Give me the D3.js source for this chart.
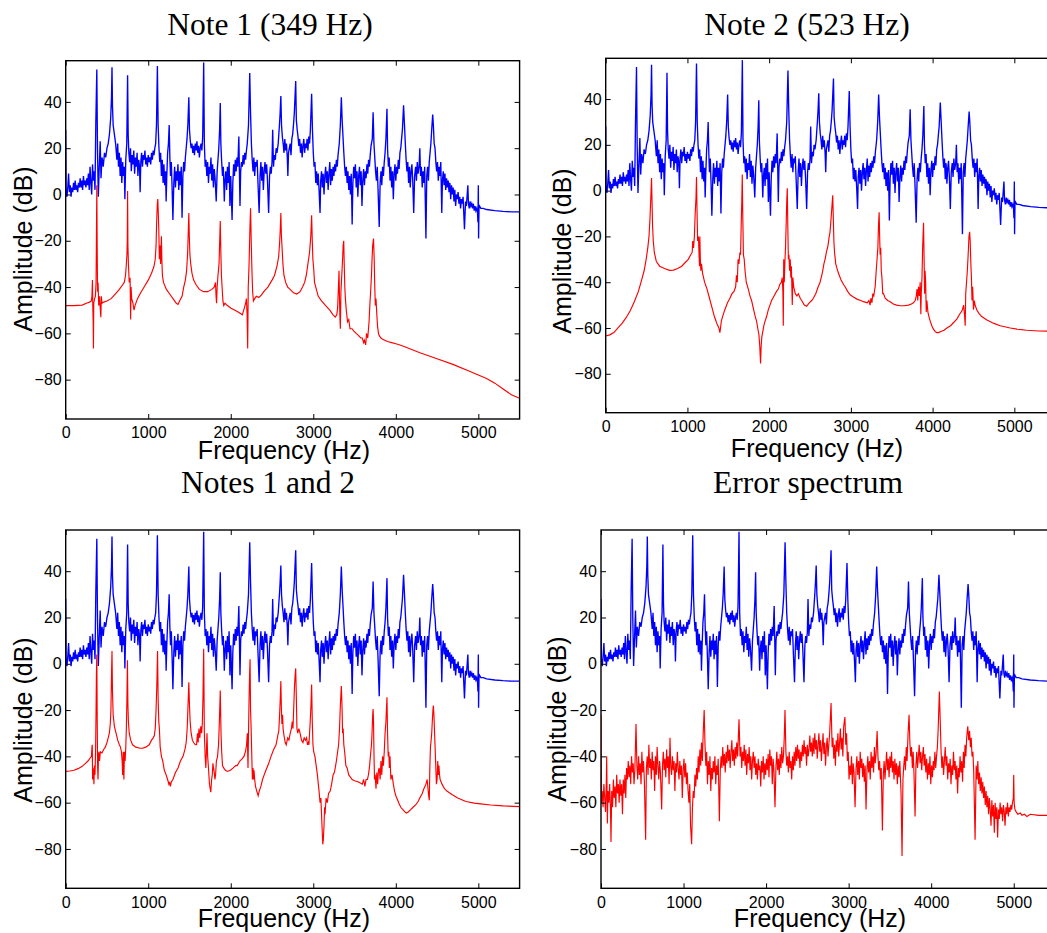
<!DOCTYPE html>
<html>
<head>
  <meta charset="utf-8">
  <script src="https://d3js.org/d3.v7.min.js"></script>
  <style>
    body { margin: 0; background: #fff; }
    .title { font-family: "Liberation Serif", "Times New Roman", serif; font-size: 31.5px; text-anchor: middle; }
    .label { font-family: "Liberation Sans", Arial, sans-serif; font-size: 25px; text-anchor: middle; }
    .tick text { font-family: "Liberation Sans", Arial, sans-serif; font-size: 16px; fill: #000; }
    .frame { fill: none; stroke: #000; stroke-width: 1.4; }
  </style>
</head>
<body>
  <script>
    // tick values and titles
    var freqTicks = [0, 1000, 2000, 3000, 4000, 5000];
    var dbTicks = [-80, -60, -40, -20, 0, 20, 40];
    var titles = ["Note 1 (349 Hz)", "Note 2 (523 Hz)", "Notes 1 and 2", "Error spectrum"];

    // measured spectrum of the two notes together (blue, same in every panel), [Hz, dB]
    var mixture = [[0,28],[5,2],[15,-1],[25,3],[35,9],[45,1],[55,4],[65,-1],[75,3],[85,1],[95,5],[105,2],[115,6],[125,2],[135,4],[145,1],[155,5],[165,3],[175,7],[185,3],[195,6],[205,2],[215,8],[225,4],[235,6],[245,3],[255,7],[265,4],[275,9],[285,2],[295,12],[305,5],[315,0],[325,13],[335,6],[345,10],[355,2],[365,31],[377,54],[385,20],[395,-1],[405,10],[418,23],[428,7],[440,16],[455,12],[470,18],[485,16],[500,20],[515,22],[530,26],[545,33],[555,42],[561,55],[567,38],[575,30],[590,26],[605,22],[620,15],[630,22],[640,12],[650,18],[660,8],[670,16],[680,5],[690,14],[700,8],[710,12],[717,-2],[728,15],[740,22],[750,51.5],[757,26],[765,18],[775,14],[785,20],[795,10],[805,17],[815,13],[825,19],[835,9],[845,16],[855,12],[865,18],[875,8],[885,15],[895,12],[902,1],[910,14],[920,18],[930,12],[940,17],[950,15],[960,19],[970,13],[980,16],[990,12],[1000,17],[1010,14],[1020,16],[1030,13],[1040,18],[1050,15],[1060,19],[1070,17],[1080,20],[1090,22],[1100,30],[1111,55.5],[1120,30],[1130,20],[1140,14],[1150,18],[1160,8],[1170,15],[1180,5],[1190,13],[1200,4],[1210,10],[1217,-3],[1225,8],[1235,18],[1245,22],[1254,30],[1262,16],[1270,8],[1280,14],[1290,2],[1299,-11],[1310,5],[1320,12],[1330,3],[1340,10],[1350,6],[1360,13],[1370,2],[1380,10],[1390,4],[1400,12],[1410,-10],[1420,8],[1430,14],[1440,10],[1450,16],[1460,20],[1470,24],[1480,30],[1492,42],[1500,28],[1510,23],[1520,20],[1530,22],[1540,18],[1550,21],[1560,17],[1570,22],[1580,19],[1590,23],[1600,18],[1610,21],[1620,16],[1630,20],[1640,22],[1650,19],[1660,25],[1672,57],[1680,22],[1690,12],[1700,15],[1710,8],[1720,14],[1730,5],[1740,12],[1750,9],[1760,16],[1770,6],[1780,13],[1790,3],[1800,11],[1810,7],[1824,-3],[1835,10],[1845,15],[1855,20],[1865,28],[1873,39.5],[1880,22],[1890,14],[1900,8],[1910,12],[1922,-3],[1930,6],[1940,10],[1950,2],[1960,12],[1970,5],[1980,14],[1990,-5],[2000,8],[2016,-11],[2025,5],[2035,13],[2045,8],[2055,15],[2065,10],[2075,16],[2085,12],[2098,25],[2105,10],[2112,-5],[2120,10],[2130,14],[2140,12],[2150,17],[2160,13],[2170,18],[2180,15],[2190,19],[2200,22],[2215,30],[2230,52.5],[2240,35],[2250,22],[2260,15],[2270,10],[2280,16],[2290,8],[2300,14],[2310,12],[2320,15],[2330,5],[2344,-8],[2355,8],[2365,14],[2375,6],[2385,12],[2395,2],[2405,10],[2415,14],[2425,9],[2435,13],[2445,6],[2459,-8],[2470,8],[2480,12],[2490,9],[2500,14],[2508,28],[2518,12],[2528,17],[2540,15],[2550,20],[2560,18],[2575,22],[2590,30],[2598,35],[2607,42.5],[2615,30],[2625,25],[2635,22],[2645,18],[2655,24],[2665,19],[2675,22],[2685,16],[2692,8],[2700,18],[2710,20],[2720,22],[2730,17],[2740,24],[2750,26],[2760,30],[2770,35],[2787,49],[2795,32],[2805,28],[2815,25],[2825,21],[2835,24],[2845,18],[2855,22],[2865,16],[2875,21],[2885,24],[2895,18],[2905,22],[2915,20],[2925,24],[2935,19],[2945,25],[2955,22],[2965,28],[2980,43.5],[2990,28],[3000,18],[3010,12],[3020,14],[3030,5],[3040,10],[3050,4],[3060,9],[3070,2],[3082,-8],[3090,6],[3100,10],[3110,3],[3120,9],[3130,0],[3140,8],[3150,12],[3160,5],[3170,10],[3180,2],[3190,9],[3200,14],[3210,4],[3220,11],[3230,6],[3240,12],[3250,8],[3260,13],[3270,10],[3280,15],[3290,12],[3300,17],[3315,22],[3328,30],[3340,42],[3350,32],[3360,25],[3370,18],[3380,12],[3390,8],[3400,12],[3410,5],[3420,10],[3430,2],[3440,8],[3450,0],[3460,9],[3471,-13],[3480,5],[3490,12],[3500,7],[3510,13],[3520,3],[3530,10],[3540,-1],[3550,8],[3560,12],[3570,4],[3580,10],[3590,-5],[3600,6],[3610,11],[3620,4],[3630,10],[3640,7],[3650,13],[3660,9],[3670,15],[3680,12],[3690,17],[3700,21],[3715,24],[3725,35.5],[3735,22],[3745,16],[3755,10],[3765,6],[3775,12],[3785,2],[3799,-14],[3810,5],[3820,10],[3830,4],[3840,12],[3850,8],[3860,14],[3870,18],[3880,24],[3893,37],[3900,20],[3910,12],[3920,16],[3930,6],[3940,12],[3950,3],[3960,10],[3970,-2],[3980,9],[3990,13],[4000,6],[4010,12],[4020,9],[4030,15],[4040,11],[4050,18],[4060,20],[4070,24],[4080,28],[4094,38.5],[4105,30],[4115,22],[4125,15],[4135,10],[4145,14],[4155,5],[4165,12],[4175,3],[4185,10],[4195,13],[4205,6],[4217,-8],[4228,8],[4240,12],[4250,6],[4260,14],[4270,9],[4282,12],[4291,20],[4300,8],[4310,12],[4320,3],[4330,10],[4340,5],[4350,12],[4365,-19],[4375,8],[4385,12],[4395,6],[4405,14],[4415,18],[4425,22],[4435,28],[4447,34.5],[4455,30],[4465,22],[4475,20],[4485,14],[4495,10],[4505,14],[4515,6],[4525,12],[4535,8],[4545,14],[4557,-8],[4565,6],[4575,10],[4585,4],[4595,9],[4605,2],[4615,7],[4625,3],[4635,6],[4645,1],[4655,5],[4665,-2],[4675,4],[4685,0],[4695,3],[4705,-3],[4715,2],[4725,-5],[4735,0],[4745,-2],[4755,1],[4765,-4],[4775,-1],[4785,-6],[4795,-2],[4805,-4],[4815,-1],[4832,-15],[4845,-3],[4855,-5],[4865,0],[4873,4],[4880,-4],[4890,-6],[4900,-3],[4910,-5],[4920,-4],[4930,-6],[4940,-4],[4950,-7],[4960,-5],[4970,-7],[4980,-6],[4990,-8],[4995,-12],[5000,4],[5003,-19],[5008,-6],[5015,-5],[5030,-6],[5060,-6],[5100,-6.5],[5200,-7],[5300,-7.3],[5400,-7.5],[5500,-7.5]];

    // model of note 1 (red, panel 1)
    var note1Model = [[0,-48],[100,-48],[200,-47.8],[250,-47],[290,-46.5],[310,-46],[318,-44],[324,-37],[328,-48],[333,-55],[336,-66.5],[340,-47],[350,-45],[360,-44],[368,-38],[372,-20],[377,4],[381,-20],[386,-42],[392,-38],[400,-48],[410,-44],[420,-50],[426,-53],[432,-44],[440,-47],[460,-46.5],[500,-46],[550,-45],[600,-43],[650,-41],[690,-39],[710,-38],[725,-35],[735,-30],[742,-26],[746,-20],[750,1.5],[754,-22],[760,-30],[770,-38],[780,-36],[787,-54],[792,-40],[800,-45],[815,-47],[828,-50],[840,-48],[870,-45],[900,-43],[950,-40],[1000,-37],[1040,-34],[1070,-31],[1085,-28],[1095,-22],[1102,-12],[1110,-4],[1116,-2],[1122,-8],[1128,-15],[1135,-28],[1143,-22],[1150,-30],[1160,-18],[1165,-28],[1172,-35],[1185,-38],[1220,-41],[1260,-43],[1300,-45],[1340,-47],[1361,-47.5],[1380,-46],[1410,-44],[1430,-40],[1450,-37],[1465,-33],[1478,-25],[1486,-15],[1492,-8],[1498,-18],[1505,-26],[1515,-30],[1530,-34],[1550,-37],[1580,-39],[1620,-41],[1670,-42],[1720,-42],[1770,-41],[1800,-40],[1815,-38],[1822,-44],[1828,-47],[1835,-40],[1845,-35],[1858,-30],[1866,-20],[1873,-11.5],[1880,-25],[1887,-35],[1895,-40],[1905,-46],[1915,-48],[1930,-47],[1960,-48],[2000,-49],[2050,-50],[2100,-51],[2140,-52],[2165,-49],[2180,-47],[2190,-45],[2198,-52],[2205,-66.5],[2212,-40],[2222,-30],[2232,-15],[2240,-6],[2248,-20],[2256,-32],[2265,-42],[2275,-46],[2290,-45],[2310,-44],[2340,-44.5],[2370,-43.5],[2400,-42],[2450,-40],[2500,-37],[2530,-35],[2560,-31],[2580,-27],[2592,-21],[2600,-15],[2607,-8],[2614,-18],[2622,-23],[2632,-30],[2645,-35],[2665,-38],[2690,-40],[2720,-41],[2760,-42.5],[2800,-43],[2840,-42],[2870,-40],[2895,-38],[2915,-35],[2935,-30],[2955,-25],[2970,-18],[2980,-9],[2988,-20],[2995,-28],[3005,-32],[3015,-38],[3030,-40],[3060,-44],[3100,-46],[3150,-48],[3200,-50],[3240,-52],[3266,-53],[3285,-52],[3295,-49],[3305,-40],[3312,-33],[3318,-45],[3322,-52],[3328,-58],[3335,-42],[3345,-35],[3355,-28],[3362,-22],[3369,-20],[3375,-30],[3382,-40],[3389,-45],[3400,-50],[3415,-55],[3430,-54],[3445,-58],[3470,-58],[3492,-59],[3520,-60],[3550,-61],[3575,-62],[3594,-62],[3610,-64],[3620,-63],[3635,-65],[3645,-60],[3660,-62],[3676,-55],[3685,-48],[3695,-42],[3705,-35],[3712,-28],[3720,-22],[3730,-19],[3738,-28],[3745,-40],[3752,-48],[3760,-45],[3770,-52],[3779,-57],[3790,-60],[3800,-61],[3820,-62],[3840,-62.5],[3900,-63.5],[3950,-64],[4000,-64.5],[4050,-65],[4100,-65.7],[4300,-68.5],[4500,-71],[4700,-73.5],[4900,-76.5],[5000,-78],[5100,-79.5],[5200,-81.5],[5300,-84],[5400,-86.5],[5500,-88]];

    // model of note 2 (red, panel 2)
    var note2Model = [[0,-63.5],[50,-63],[100,-62],[150,-60],[200,-58],[250,-55.5],[300,-52.5],[350,-48.5],[400,-44],[440,-39],[470,-35],[495,-30],[515,-25],[530,-20],[542,-12],[552,-3],[561,5.5],[567,-5],[573,-15],[582,-22],[595,-27],[620,-31],[660,-33],[720,-34],[780,-34.8],[830,-34.7],[880,-34],[930,-33],[970,-31.5],[1010,-30],[1040,-28],[1058,-27],[1065,-22],[1075,-25],[1085,-20],[1095,-10],[1105,-3],[1111,6],[1117,-8],[1125,-22],[1135,-20],[1142,-28],[1148,-33],[1152,-20],[1158,-30],[1164,-35],[1172,-32],[1185,-36],[1210,-40],[1240,-43],[1270,-47],[1300,-51],[1330,-55],[1360,-58],[1385,-60],[1397,-62],[1405,-60],[1415,-57],[1430,-55],[1458,-52],[1490,-49],[1520,-47],[1545,-45],[1570,-44],[1590,-42],[1600,-37],[1610,-40],[1620,-30],[1630,-32],[1642,-27],[1650,-28],[1658,-15],[1665,-5],[1671,7],[1677,-10],[1685,-28],[1695,-30],[1705,-35],[1720,-40],[1745,-43],[1765,-46],[1785,-48],[1810,-52],[1830,-55],[1846,-57],[1860,-60],[1875,-63],[1885,-68],[1895,-75.5],[1902,-68],[1910,-64],[1920,-62],[1935,-59],[1950,-57],[1969,-55],[1990,-52],[2010,-50],[2030,-48],[2060,-46],[2090,-44],[2112,-43],[2130,-41],[2150,-40],[2160,-38],[2168,-44],[2173,-59],[2178,-30],[2185,-40],[2192,-32],[2200,-25],[2208,-15],[2215,-5],[2222,1],[2228,-15],[2235,-30],[2242,-28],[2250,-35],[2258,-30],[2265,-38],[2272,-33],[2283,-50],[2290,-38],[2300,-42],[2320,-45],[2340,-46],[2357,-45],[2380,-47],[2398,-48],[2430,-50],[2459,-50.5],[2490,-49],[2520,-48],[2541,-47],[2570,-45],[2600,-42],[2623,-40],[2650,-36],[2670,-32],[2684,-30],[2700,-27],[2720,-24],[2735,-20],[2745,-18],[2758,-12],[2770,-6],[2778,-2],[2785,-12],[2792,-22],[2800,-27],[2815,-32],[2830,-34],[2847,-36],[2880,-39],[2910,-41],[2929,-42],[2960,-44],[2990,-45.5],[3031,-46.5],[3080,-47.5],[3120,-48],[3154,-48.5],[3200,-49],[3220,-48],[3235,-50],[3245,-47],[3258,-49],[3268,-45],[3280,-46],[3297,-42],[3310,-35],[3320,-30],[3330,-25],[3338,-15],[3346,-9.5],[3352,-20],[3358,-28],[3365,-25],[3372,-35],[3380,-38],[3390,-45],[3399,-45],[3420,-47],[3450,-48],[3480,-48.5],[3520,-49.5],[3560,-50],[3603,-50.3],[3650,-50.3],[3705,-50],[3740,-49.5],[3765,-49],[3787,-48],[3800,-46],[3810,-43],[3818,-48],[3828,-42],[3838,-46],[3848,-40],[3856,-54],[3862,-44],[3870,-38],[3878,-25],[3889,-14],[3896,-30],[3902,-45],[3908,-35],[3915,-40],[3922,-53],[3930,-48],[3942,-53],[3955,-55],[3971,-57],[3990,-59],[4010,-60.5],[4032,-61.6],[4050,-62],[4073,-62],[4100,-61.5],[4140,-61],[4175,-60],[4220,-59],[4260,-57.5],[4298,-56],[4330,-54],[4350,-53],[4365,-52],[4379,-50],[4390,-54],[4399,-59],[4405,-45],[4415,-40],[4425,-35],[4435,-28],[4445,-20],[4453,-18],[4460,-22],[4468,-32],[4475,-38],[4482,-48],[4490,-42],[4500,-52],[4510,-48],[4520,-50],[4540,-52],[4564,-53.5],[4600,-55],[4665,-56.5],[4750,-58],[4828,-59],[4950,-60],[5033,-60.5],[5150,-61],[5300,-61.3],[5500,-61.5]];

    // model of both notes (red, panel 3)
    var bothModel = [[0,-46.5],[50,-46.3],[100,-46],[150,-45.3],[200,-44.3],[240,-43],[270,-42],[300,-40.5],[312,-40],[318,-36],[322,-35],[326,-50],[330,-45],[336,-47],[342,-52],[348,-44],[355,-48],[362,-38],[368,-20],[372,-5],[377,4],[382,-25],[387,-45],[392,-50],[397,-40],[402,-38],[410,-42],[420,-38],[440,-38.5],[460,-37],[480,-36],[500,-34],[515,-32],[529,-30],[540,-26],[548,-20],[555,-5],[561,5.5],[567,-12],[575,-22],[590,-27],[610,-30],[630,-33],[650,-35],[664,-36],[675,-38],[684,-42],[690,-48],[697,-38],[705,-50],[712,-38],[720,-42],[728,-36],[735,-28],[742,-15],[748,1.5],[754,-18],[760,-25],[770,-30],[787,-33],[810,-35],[850,-36],[900,-36.5],[930,-36.5],[970,-36],[1012,-35],[1040,-33],[1060,-32],[1074,-31],[1085,-28],[1095,-20],[1105,-8],[1113,5.5],[1120,-15],[1128,-25],[1135,-28],[1145,-36],[1160,-40],[1176,-42],[1195,-46],[1217,-48],[1235,-50],[1250,-52],[1258,-51],[1268,-53],[1280,-51],[1299,-50],[1330,-47],[1361,-45],[1390,-42],[1422,-40],[1445,-37],[1460,-34],[1472,-28],[1482,-18],[1492,-8],[1500,-18],[1508,-25],[1520,-30],[1535,-33],[1550,-34],[1570,-35],[1586,-35],[1597,-30],[1605,-34],[1615,-28],[1625,-32],[1637,-27],[1647,-30],[1655,-26],[1663,-15],[1672,6.5],[1680,-30],[1690,-40],[1698,-45],[1705,-38],[1712,-30],[1720,-40],[1730,-45],[1742,-52],[1758,-55.5],[1768,-50],[1776,-48],[1784,-43],[1791,-45],[1800,-47],[1808,-50],[1816,-48],[1826,-42],[1840,-40],[1852,-35],[1862,-25],[1873,-11.5],[1882,-30],[1890,-38],[1900,-44],[1914,-45],[1935,-46],[1960,-46.5],[1996,-46],[2030,-45],[2060,-44],[2078,-44],[2110,-42],[2140,-41],[2160,-40],[2178,-38],[2192,-35],[2201,-30],[2206,-40],[2209,-45],[2215,-30],[2222,-15],[2228,-5],[2234,2],[2240,-20],[2247,-28],[2255,-40],[2262,-50],[2270,-45],[2275,-50],[2282,-46],[2290,-50],[2300,-53],[2315,-55],[2332,-57],[2345,-55],[2355,-54],[2365,-53],[2385,-50],[2405,-48],[2426,-46],[2460,-43],[2488,-40],[2520,-37],[2549,-35],[2570,-31],[2582,-29],[2592,-22],[2600,-15],[2607,-7.5],[2614,-20],[2620,-26],[2628,-22],[2634,-28],[2645,-31],[2660,-34],[2672,-35],[2690,-32],[2705,-33],[2721,-30],[2735,-28],[2745,-25],[2754,-28],[2762,-20],[2772,-10],[2780,-5],[2787,-2],[2795,-15],[2802,-28],[2812,-30],[2825,-28],[2840,-30],[2857,-33],[2875,-34],[2890,-32],[2905,-33],[2918,-32],[2930,-35],[2940,-34],[2947,-35],[2955,-30],[2963,-25],[2972,-18],[2980,-9],[2988,-25],[2996,-35],[3005,-38],[3020,-40],[3035,-44],[3050,-48],[3061,-52],[3070,-55],[3082,-60],[3092,-58],[3100,-65],[3108,-72],[3115,-78],[3122,-76],[3130,-70],[3137,-62],[3143,-65],[3155,-58],[3170,-60],[3185,-56],[3205,-55],[3222,-52],[3240,-48],[3255,-47],[3266,-45],[3280,-42],[3295,-38],[3307,-35],[3318,-28],[3328,-18],[3340,-9.6],[3348,-18],[3355,-30],[3362,-28],[3370,-35],[3380,-38],[3395,-44],[3410,-45],[3430,-48],[3450,-49],[3471,-50],[3500,-50.5],[3540,-51],[3570,-51.5],[3594,-52],[3610,-50],[3625,-53],[3640,-50],[3656,-50],[3668,-48],[3680,-45],[3692,-40],[3705,-35],[3712,-30],[3720,-22],[3725,-19.5],[3730,-25],[3736,-40],[3742,-50],[3750,-48],[3760,-54],[3770,-47],[3780,-52],[3790,-46],[3799,-45],[3810,-50],[3820,-42],[3830,-48],[3840,-40],[3850,-44],[3860,-38],[3870,-30],[3880,-25],[3893,-14.5],[3900,-30],[3908,-40],[3915,-38],[3922,-45],[3930,-40],[3940,-50],[3955,-48],[3970,-52],[3985,-55],[4000,-57],[4012,-58],[4040,-60.5],[4060,-62],[4086,-63],[4110,-64],[4127,-64.5],[4150,-64],[4180,-63],[4209,-62],[4240,-61],[4270,-59.5],[4291,-58],[4320,-56],[4340,-54],[4365,-52],[4380,-50],[4390,-54],[4398,-57],[4406,-59],[4412,-45],[4420,-36],[4428,-33],[4435,-30],[4442,-25],[4450,-20],[4455,-18],[4462,-22],[4470,-30],[4478,-38],[4485,-45],[4492,-52],[4500,-50],[4508,-42],[4515,-48],[4522,-44],[4530,-48],[4537,-50],[4560,-52],[4590,-54],[4619,-55],[4680,-56.5],[4750,-58],[4850,-59.5],[4950,-60.2],[5029,-60.5],[5150,-61],[5300,-61.4],[5500,-61.7]];

    // residual error spectrum (red, panel 4)
    var errorSpec = [[0,-22],[5,-60],[15,-55],[25,-62],[35,-52],[45,-58],[55,-64],[65,-50],[69,-40],[77,-69],[85,-55],[95,-60],[105,-52],[115,-63],[121,-77],[130,-55],[140,-62],[150,-50],[160,-58],[170,-53],[180,-62],[190,-48],[200,-56],[210,-52],[220,-60],[230,-50],[240,-57],[250,-52],[260,-65],[270,-50],[280,-56],[290,-48],[300,-58],[310,-45],[320,-50],[330,-42],[340,-49],[350,-44],[360,-52],[370,-40],[380,-47],[390,-43],[400,-52],[410,-46],[424,-26],[435,-44],[445,-50],[455,-40],[465,-48],[475,-43],[485,-52],[495,-38],[505,-47],[515,-42],[525,-50],[541,-76],[550,-45],[560,-40],[570,-48],[580,-35],[590,-45],[600,-41],[610,-50],[620,-38],[630,-46],[640,-42],[650,-55],[660,-40],[670,-48],[680,-36],[690,-44],[700,-50],[710,-42],[720,-47],[735,-63],[745,-44],[755,-38],[765,-46],[775,-41],[785,-49],[795,-37],[805,-45],[815,-40],[825,-52],[836,-32],[845,-44],[855,-48],[865,-40],[875,-46],[885,-42],[895,-55],[905,-43],[915,-47],[925,-38],[935,-45],[945,-50],[955,-42],[965,-48],[975,-44],[985,-58],[995,-46],[1005,-41],[1015,-49],[1025,-43],[1035,-52],[1045,-47],[1055,-55],[1065,-60],[1075,-52],[1085,-70],[1098,-78],[1108,-62],[1118,-55],[1128,-58],[1138,-48],[1148,-53],[1158,-45],[1168,-50],[1178,-40],[1188,-47],[1198,-37],[1208,-44],[1218,-34],[1228,-42],[1238,-30],[1250,-20],[1260,-35],[1270,-44],[1280,-38],[1290,-52],[1300,-42],[1310,-48],[1320,-40],[1330,-55],[1340,-45],[1350,-50],[1360,-42],[1370,-47],[1380,-40],[1390,-52],[1400,-44],[1410,-48],[1420,-41],[1434,-68],[1445,-46],[1455,-40],[1465,-45],[1475,-36],[1485,-44],[1495,-39],[1505,-47],[1515,-38],[1525,-43],[1535,-35],[1545,-42],[1555,-37],[1565,-45],[1575,-38],[1585,-33],[1595,-42],[1605,-37],[1615,-44],[1625,-36],[1635,-41],[1645,-34],[1655,-40],[1672,-24],[1685,-40],[1695,-36],[1705,-45],[1715,-38],[1725,-42],[1735,-35],[1745,-44],[1755,-37],[1765,-48],[1775,-39],[1785,-43],[1795,-36],[1805,-46],[1815,-40],[1825,-50],[1835,-42],[1845,-38],[1855,-45],[1865,-40],[1875,-48],[1885,-43],[1895,-50],[1905,-41],[1915,-46],[1925,-44],[1935,-53],[1945,-42],[1955,-47],[1965,-40],[1975,-50],[1985,-43],[1995,-48],[2005,-41],[2015,-46],[2025,-39],[2035,-49],[2045,-37],[2055,-44],[2065,-40],[2075,-52],[2085,-41],[2095,-46],[2108,-62],[2120,-44],[2130,-38],[2140,-46],[2150,-41],[2160,-48],[2170,-39],[2180,-45],[2190,-36],[2200,-43],[2210,-40],[2220,-32],[2229,-20],[2240,-38],[2250,-44],[2260,-40],[2270,-47],[2280,-38],[2290,-45],[2300,-42],[2310,-50],[2320,-40],[2330,-46],[2340,-38],[2350,-44],[2360,-36],[2370,-42],[2380,-35],[2390,-41],[2400,-37],[2410,-45],[2420,-38],[2430,-42],[2440,-35],[2450,-40],[2460,-33],[2470,-39],[2480,-36],[2490,-44],[2500,-35],[2510,-40],[2520,-37],[2530,-31],[2540,-38],[2550,-34],[2560,-40],[2570,-32],[2580,-39],[2590,-30],[2600,-37],[2610,-33],[2620,-41],[2630,-35],[2640,-30],[2650,-38],[2660,-33],[2670,-42],[2680,-36],[2690,-30],[2700,-39],[2710,-34],[2720,-44],[2730,-36],[2740,-32],[2750,-40],[2760,-35],[2770,-30],[2787,-17],[2800,-36],[2810,-32],[2820,-41],[2830,-35],[2840,-44],[2850,-33],[2860,-38],[2870,-30],[2880,-40],[2890,-34],[2900,-28],[2910,-37],[2920,-32],[2930,-40],[2940,-27],[2955,-23],[2965,-35],[2975,-30],[2985,-42],[2995,-38],[3005,-50],[3015,-44],[3025,-48],[3035,-40],[3045,-52],[3055,-43],[3065,-47],[3078,-62],[3090,-45],[3100,-40],[3110,-48],[3120,-42],[3130,-50],[3140,-38],[3150,-45],[3160,-41],[3170,-49],[3180,-43],[3190,-51],[3200,-44],[3211,-63],[3222,-46],[3232,-40],[3242,-47],[3252,-42],[3262,-50],[3272,-38],[3282,-45],[3292,-40],[3302,-47],[3312,-36],[3322,-43],[3332,-39],[3345,-29],[3355,-40],[3365,-46],[3375,-42],[3385,-50],[3395,-45],[3409,-72],[3420,-48],[3430,-42],[3440,-50],[3450,-44],[3460,-38],[3470,-46],[3480,-41],[3490,-49],[3500,-40],[3510,-45],[3520,-38],[3530,-47],[3540,-42],[3550,-50],[3560,-41],[3570,-48],[3580,-43],[3590,-52],[3600,-44],[3610,-49],[3620,-42],[3635,-56],[3647,-83],[3658,-50],[3668,-44],[3678,-40],[3688,-46],[3698,-36],[3708,-42],[3720,-30],[3732,-22],[3742,-34],[3752,-40],[3762,-36],[3772,-45],[3782,-38],[3792,-48],[3805,-66],[3815,-44],[3825,-38],[3835,-45],[3845,-40],[3855,-35],[3865,-43],[3875,-38],[3885,-46],[3895,-40],[3905,-36],[3915,-44],[3925,-39],[3935,-47],[3945,-41],[3955,-50],[3965,-43],[3975,-48],[3985,-40],[3995,-52],[4005,-44],[4015,-49],[4025,-42],[4035,-46],[4045,-38],[4055,-45],[4065,-40],[4075,-36],[4085,-28],[4099,-12],[4110,-25],[4120,-38],[4130,-45],[4140,-40],[4150,-48],[4160,-42],[4170,-36],[4180,-44],[4190,-40],[4200,-50],[4210,-43],[4220,-47],[4230,-41],[4240,-52],[4250,-44],[4260,-48],[4270,-38],[4280,-46],[4290,-42],[4300,-50],[4310,-44],[4320,-56],[4330,-45],[4340,-49],[4350,-40],[4360,-47],[4370,-42],[4380,-51],[4390,-38],[4400,-45],[4410,-35],[4420,-40],[4430,-32],[4443,-27],[4455,-33],[4465,-29],[4475,-36],[4485,-32],[4495,-40],[4505,-38],[4515,-46],[4532,-76],[4545,-44],[4555,-50],[4565,-42],[4575,-52],[4585,-47],[4595,-55],[4605,-49],[4615,-56],[4625,-51],[4635,-58],[4645,-53],[4655,-61],[4665,-55],[4675,-62],[4685,-57],[4695,-65],[4705,-58],[4715,-63],[4725,-70],[4735,-59],[4745,-66],[4755,-61],[4765,-73],[4775,-60],[4785,-67],[4795,-62],[4805,-75],[4815,-63],[4825,-67],[4835,-60],[4845,-65],[4855,-62],[4865,-68],[4875,-61],[4885,-64],[4895,-70],[4905,-62],[4915,-65],[4925,-60],[4935,-66],[4945,-62],[4955,-64],[4965,-61],[4975,-63],[4985,-60],[4995,-58],[5000,-48],[5005,-60],[5015,-63],[5030,-64],[5050,-65],[5080,-64.5],[5100,-65.5],[5130,-65],[5160,-66],[5200,-65],[5300,-65.5],[5400,-65.5],[5500,-65.5]];

    var redSeries = [note1Model, note2Model, bothModel, errorSpec];

    // panel placement on the page
    var panels = [
      { left: 65.7, top: 60.7, width: 453.9, height: 358.3, titleX: 270, titleY: 35, xlabX: 284, xlabY: 459, ylabX: 32, ylabY: 249 },
      { left: 605.7, top: 58.3, width: 449.5, height: 354.4, titleX: 807, titleY: 35, xlabX: 817, xlabY: 457, ylabX: 571, ylabY: 251 },
      { left: 65.7, top: 530, width: 453.9, height: 358.3, titleX: 268, titleY: 493, xlabX: 284, xlabY: 927, ylabX: 32, ylabY: 720 },
      { left: 601, top: 530, width: 454, height: 358.3, titleX: 808, titleY: 493, xlabX: 820, xlabY: 927, ylabX: 566, ylabY: 719 }
    ];

    var svg = d3.select("body")
      .append("svg")
      .attr("width", 1047)
      .attr("height", 933);

    panels.forEach(function (p, i) {
      var x = d3.scaleLinear().domain([0, 5500]).range([0, p.width]);
      var y = d3.scaleLinear().domain([-97, 57.8]).range([p.height, 0]);

      var g = svg.append("g").attr("transform", "translate(" + p.left + "," + p.top + ")");

      g.append("clipPath").attr("id", "clip" + i)
        .append("rect").attr("width", p.width).attr("height", p.height);

      var line = d3.line()
        .x(function (d) { return x(d[0]); })
        .y(function (d) { return y(d[1]); });

      var plot = g.append("g").attr("clip-path", "url(#clip" + i + ")");
      plot.append("path").datum(mixture)
        .attr("d", line).attr("fill", "none").attr("stroke", "#0000ff").attr("stroke-width", 1.35);
      plot.append("path").datum(redSeries[i])
        .attr("d", line).attr("fill", "none").attr("stroke", "#ff0000").attr("stroke-width", 1.15);

      // axes: ticks point inwards, on all four sides
      g.append("g")
        .attr("transform", "translate(0," + p.height + ")")
        .call(d3.axisBottom(x).tickValues(freqTicks).tickSizeInner(-5).tickSizeOuter(0).tickPadding(8).tickFormat(d3.format("d")))
        .call(function (a) { a.select(".domain").remove(); });
      g.append("g")
        .call(d3.axisTop(x).tickValues(freqTicks).tickSizeInner(-5).tickSizeOuter(0).tickFormat(""))
        .call(function (a) { a.select(".domain").remove(); });
      g.append("g")
        .call(d3.axisLeft(y).tickValues(dbTicks).tickSizeInner(-5).tickSizeOuter(0).tickPadding(4))
        .call(function (a) { a.select(".domain").remove(); });
      g.append("g")
        .attr("transform", "translate(" + p.width + ",0)")
        .call(d3.axisRight(y).tickValues(dbTicks).tickSizeInner(-5).tickSizeOuter(0).tickFormat(""))
        .call(function (a) { a.select(".domain").remove(); });

      g.selectAll(".tick line").attr("stroke", "#000");
      g.selectAll(".tick text").attr("fill", "#000");

      g.append("rect").attr("class", "frame")
        .attr("width", p.width).attr("height", p.height);

      svg.append("text").attr("class", "title")
        .attr("x", p.titleX).attr("y", p.titleY).text(titles[i]);
      svg.append("text").attr("class", "label")
        .attr("x", p.xlabX).attr("y", p.xlabY).text("Frequency (Hz)");
      svg.append("text").attr("class", "label")
        .attr("transform", "translate(" + p.ylabX + "," + p.ylabY + ") rotate(-90)")
        .text("Amplitude (dB)");
    });
  </script>
</body>
</html>
